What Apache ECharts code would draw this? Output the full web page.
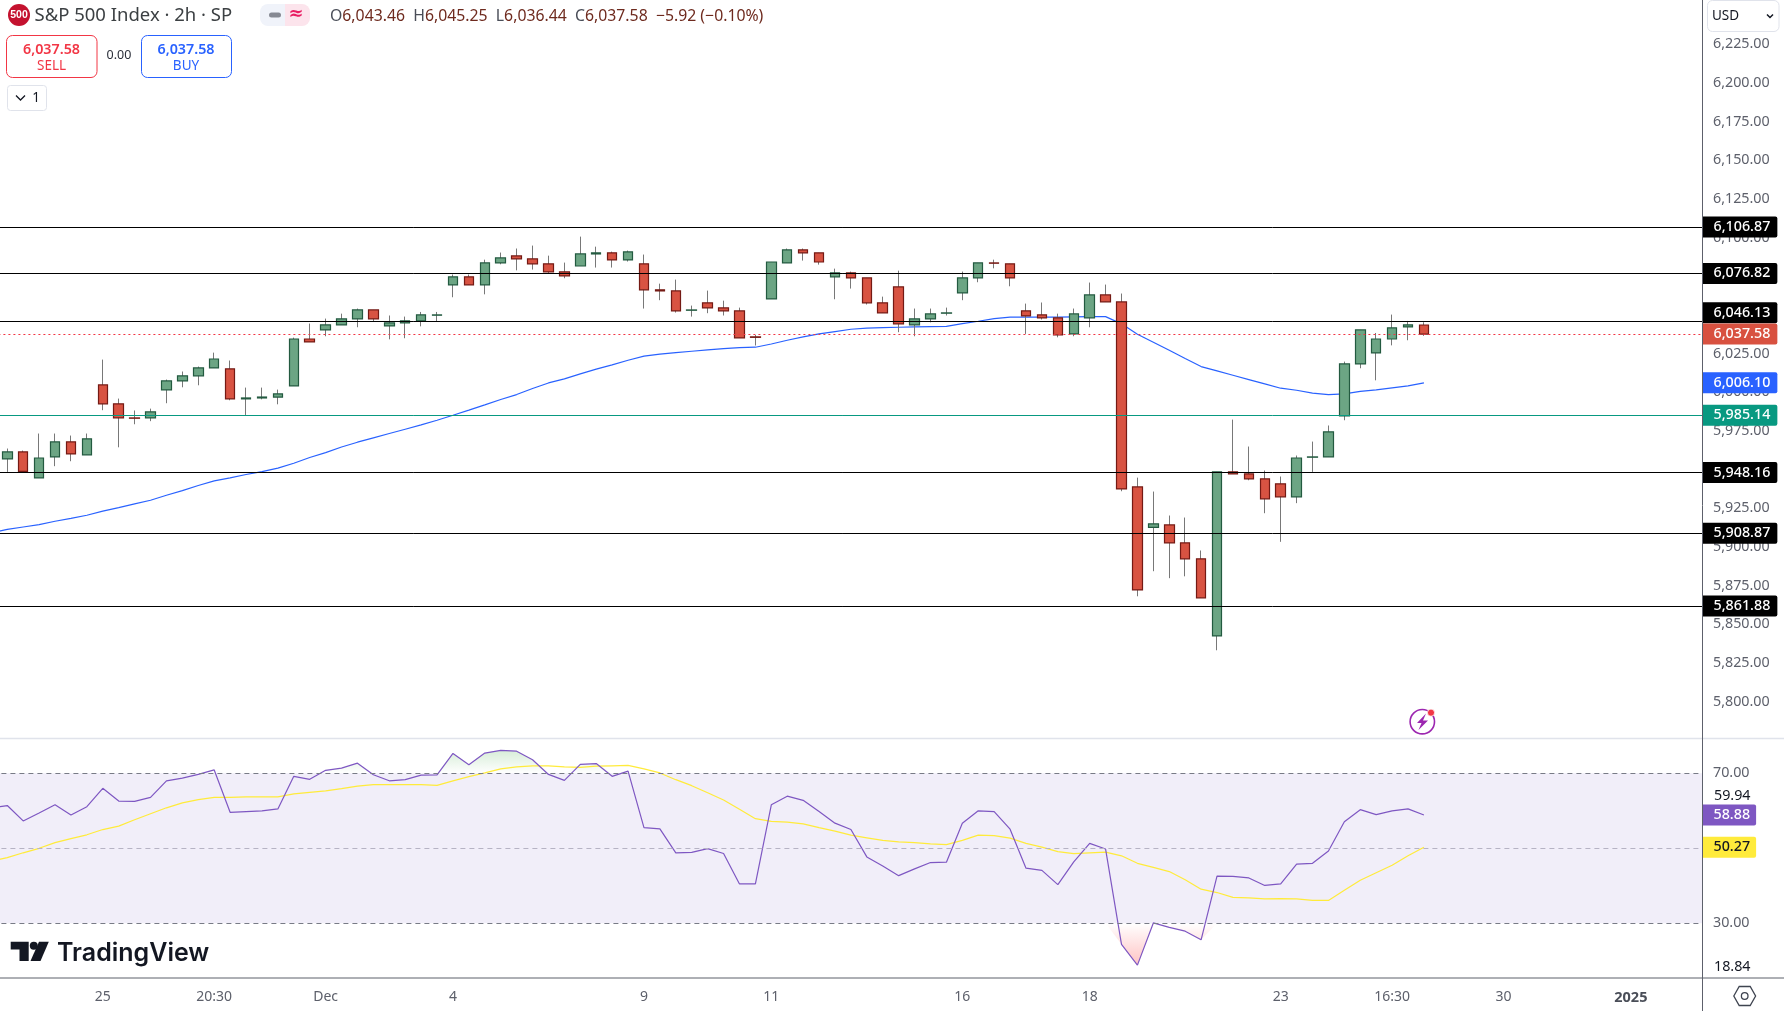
<!DOCTYPE html>
<html><head><meta charset="utf-8">
<style>html,body{margin:0;padding:0;background:#fff;width:1784px;height:1011px;overflow:hidden;position:relative}#c{position:absolute;left:-17px;top:0;width:1801px;height:1011px}</style>
<script src="https://cdn.jsdelivr.net/npm/echarts@6/dist/echarts.min.js"></script>
</head><body><div id="c"></div>
<script>
const opens=[5956.9,5961.4,5944.6,5958.2,5967.9,5959.5,6004.7,5992.5,5983.4,5983.4,6001.5,6007.3,6010.6,6015.7,6015.1,5995.7,5996.3,5996.9,6004.1,6034.4,6040.3,6043.5,6047.4,6053.2,6042.9,6044.8,6046.1,6049.8,6069.4,6074.6,6069.4,6083.6,6088.1,6086.2,6083.0,6077.8,6081.6,6089.4,6090.1,6085.5,6083.0,6066.2,6065.5,6053.0,6057.8,6054.5,6052.6,6035.8,6060.3,6083.6,6092.0,6090.1,6074.6,6077.1,6073.9,6057.8,6068.1,6043.5,6047.4,6051.1,6064.2,6073.9,6083.6,6083.0,6052.6,6050.0,6048.1,6037.7,6048.1,6062.9,6058.4,5938.8,5912.7,5914.2,5902.6,5892.3,5842.5,5948.5,5947.2,5944.0,5940.8,5932.4,5958.0,5958.2,5984.7,6018.3,6025.4,6034.4,6042.2,6043.46];
const closes=[5961.4,5948.9,5957.5,5967.9,5960.1,5969.9,5992.5,5983.4,5983.2,5987.3,6007.3,6010.6,6015.7,6021.5,5995.7,5996.3,5996.9,5998.9,6034.4,6032.5,6043.5,6047.4,6053.2,6047.4,6044.8,6046.1,6050.0,6050.0,6074.6,6069.4,6083.6,6086.8,6086.2,6083.0,6077.8,6075.2,6089.4,6090.1,6085.5,6090.7,6066.2,6065.5,6052.6,6053.2,6054.5,6052.6,6035.1,6035.5,6084.2,6092.0,6090.1,6084.2,6077.1,6073.9,6057.8,6051.3,6044.2,6047.4,6050.6,6051.3,6073.9,6083.6,6083.4,6073.9,6049.3,6048.1,6037.0,6050.6,6062.9,6058.4,5937.5,5872.2,5914.9,5902.6,5892.3,5867.1,5948.5,5947.2,5944.0,5931.1,5932.4,5957.5,5958.2,5974.4,6018.3,6040.3,6034.4,6041.6,6043.5,6037.58];
const highs=[5963.6,5962.3,5973.3,5973.3,5972.0,5973.3,6021.1,5995.9,5988.2,5989.4,6008.2,6013.4,6016.6,6025.6,6020.5,6003.0,6003.0,6001.7,6035.3,6044.4,6047.6,6050.8,6054.1,6053.2,6049.6,6048.9,6051.9,6051.9,6076.1,6076.1,6085.7,6090.3,6092.9,6094.8,6088.3,6083.8,6100.6,6094.1,6090.9,6091.6,6089.0,6070.2,6072.8,6056.0,6065.7,6059.2,6054.7,6037.0,6084.2,6092.9,6092.9,6090.1,6079.9,6078.0,6073.9,6061.8,6078.6,6054.1,6054.1,6054.7,6078.0,6083.6,6085.7,6083.0,6057.3,6058.0,6050.8,6054.1,6070.9,6069.6,6063.8,5944.8,5935.8,5920.3,5919.0,5897.7,5948.5,5982.3,5964.9,5949.4,5945.5,5959.1,5968.1,5978.5,6019.8,6040.3,6038.3,6050.2,6046.1,6045.25];
const lows=[5948.5,5948.9,5944.6,5952.2,5955.4,5959.5,5988.4,5964.4,5979.3,5981.3,5992.9,6003.2,6004.5,6015.7,5994.8,5985.3,5995.4,5992.2,6004.1,6032.5,6036.2,6043.5,6042.0,6045.9,6034.2,6034.9,6042.6,6045.9,6061.4,6069.4,6063.3,6082.7,6078.8,6079.3,6077.1,6073.7,6081.6,6080.6,6080.6,6084.5,6054.1,6059.5,6051.5,6048.9,6051.1,6049.6,6035.1,6030.2,6060.3,6083.6,6085.1,6082.5,6060.1,6067.0,6056.7,6051.3,6038.8,6036.2,6045.2,6049.6,6059.5,6071.1,6080.1,6068.5,6037.7,6047.0,6035.5,6036.2,6042.0,6058.4,5936.0,5868.1,5884.3,5879.8,5881.0,5867.1,5833.2,5947.2,5943.1,5921.8,5903.3,5928.3,5948.5,5958.2,5981.9,6015.5,6007.7,6030.3,6033.6,6036.44];
// The next three start one bar earlier than the candles: the lines run in from the left edge.
const priceAverage=[5909.1,5911.4,5912.9,5914.4,5916.6,5918.5,5920.5,5923.1,5925.4,5927.8,5930.2,5933.4,5936.4,5939.7,5942.7,5944.6,5946.8,5948.7,5950.9,5954.1,5957.8,5961.0,5964.6,5967.7,5970.5,5973.3,5976.1,5978.9,5981.9,5985.1,5988.4,5991.8,5995.3,5998.5,6002.4,6006.0,6008.6,6011.9,6014.9,6017.7,6020.7,6023.3,6024.6,6025.6,6026.5,6027.4,6028.2,6028.9,6029.1,6031.2,6033.6,6035.8,6037.7,6039.2,6040.7,6041.4,6041.8,6042.0,6042.2,6042.4,6042.6,6044.4,6045.9,6047.6,6048.5,6048.5,6048.5,6048.5,6048.7,6048.9,6048.9,6044.2,6037.5,6032.3,6027.1,6021.8,6016.6,6013.8,6011.0,6008.2,6005.4,6002.6,6001.3,5999.4,5998.5,5998.9,6000.6,6001.5,6002.8,6004.1,6006.10];
const rsiValues=[60.8,61.4,57.3,59.4,61.6,58.9,61.1,66.0,62.6,62.5,63.6,68.0,68.7,69.7,70.9,59.6,59.8,60.0,60.5,69.2,68.4,70.8,71.4,72.7,69.6,68.0,68.3,69.5,69.6,75.3,72.3,75.4,76.1,75.9,73.6,69.7,68.1,72.4,72.6,69.2,70.6,55.5,55.2,48.8,48.9,49.9,48.6,40.5,40.5,61.6,63.9,62.8,59.8,56.7,55.0,47.7,45.3,42.7,44.5,46.2,46.3,56.7,60.0,59.8,55.1,44.7,44.1,40.3,46.4,51.3,49.8,24.4,18.84,30.1,28.9,27.9,25.6,42.6,42.5,42.1,40.1,40.5,45.8,46.0,49.3,57.1,60.3,59.0,60.0,60.5,58.88];
const rsiAverage=[46.6,47.5,48.8,50.0,51.5,52.6,53.6,55.0,55.9,57.6,59.2,60.8,62.1,63.0,63.6,63.6,63.7,63.7,63.7,64.5,64.9,65.3,65.9,66.6,67.0,67.0,67.0,67.0,66.8,68.0,69.1,70.1,71.2,71.7,72.0,72.0,71.7,71.6,71.9,72.0,72.1,71.2,70.1,68.3,66.7,64.8,62.9,60.4,57.9,57.2,57.0,56.5,55.5,54.6,53.5,52.8,52.1,51.7,51.5,51.2,51.0,52.1,53.5,53.4,52.7,51.3,50.3,49.1,48.6,48.8,49.0,48.0,46.0,44.9,43.8,41.6,39.1,38.2,36.9,36.8,36.5,36.6,36.5,36.1,36.1,38.8,41.5,43.5,45.5,48.0,50.27];
const timeTickBars=[6,13,20,28,40,48,60,68,80,87,94,102];
const timeTickLabels=['25','20:30','Dec','4','9','11','16','18','23','16:30','30','2025'];
const levelValues=[6106.87,6076.82,6046.13,5948.16,5908.87,5861.88];
const supportValue=5985.14, lastPrice=6037.58, averageLast=6006.10, rsiLast=58.88, rsiAvgLast=50.27;
const rsiLevels=[70,50,30];

const FONT='"Noto Sans"';
const slotCount=108;
const categories=Array.from({length:slotCount},(_,i)=>'b'+i);
const tickMap={};timeTickBars.forEach((b,i)=>{tickMap['b'+(b+1)]=timeTickLabels[i]});
const blank=['-','-','-','-'];
const wickData=[blank].concat(opens.map((o,i)=>[o,closes[i],lows[i],highs[i]]));
const bodyData=[blank].concat(opens.map((o,i)=>[o,closes[i],Math.min(o,closes[i]),Math.max(o,closes[i])]));

const tag=(bg,fg,pad)=>({show:true,position:'end',distance:0,color:fg,backgroundColor:bg,fontFamily:FONT,fontSize:14.3,fontWeight:500,lineHeight:15,padding:pad||[3,7,3,11],borderRadius:[0,2,2,0],formatter:p=>p.value.toLocaleString('en-US',{minimumFractionDigits:2,maximumFractionDigits:2})});
const noLine={color:'rgba(0,0,0,0)',width:0};
const levelLine=(v,line,bg,fg,offset)=>({yAxis:v,lineStyle:line,label:Object.assign(tag(bg,fg),offset?{offset}:{})});
const black={color:'#000',width:1,type:'solid'};

const T=(text,x,y,font,fill,align)=>({type:'text',silent:true,z:100,style:{text,x,y,font,fill,textAlign:align||'left',textVerticalAlign:'middle'}});
const R=(x,y,w,h,r,fill,stroke,lw)=>({type:'rect',silent:true,z:99,shape:{x,y,width:w,height:h,r},style:{fill:fill||'none',stroke:stroke||'none',lineWidth:lw||1}});
const L=(x1,y1,x2,y2,stroke,lw)=>({type:'line',silent:true,z:98,shape:{x1,y1,x2,y2},style:{stroke,lineWidth:lw||1}});
const P=(points,fill,stroke,lw)=>({type:'polygon',silent:true,z:100,shape:{points},style:{fill:fill||'none',stroke:stroke||'none',lineWidth:lw||1}});
const PL=(points,stroke,lw)=>({type:'polyline',silent:true,z:100,shape:{points},style:{fill:'none',stroke,lineWidth:lw||1}});
const C=(cx,cy,r,fill,stroke,lw)=>({type:'circle',silent:true,z:100,shape:{cx,cy,r},style:{fill:fill||'none',stroke:stroke||'none',lineWidth:lw||1}});

const chrome=[
 L(0,738.5,1784,738.5,'#e0e3eb',1.5),
 L(1702.5,0,1702.5,1011,'#5d606b',1),
 L(0,978,1784,978,'#5d606b',1),
 // title row
 C(19,15,11,'#c4122f'),
 T('500',19,15.5,'bold 10.5px "Liberation Sans"','#fff','center'),
 T('S&P 500 Index · 2h · SP',34.5,15.5,'18.5px '+FONT,'#3c4043'),
 R(260,4,25,22,[8,0,0,8],'#f0f3fa'), R(285,4,25,22,[0,8,8,0],'#fce4ec'),
 R(269,12.5,12,5,2.5,'#868993'),
 T('≈',296,14.5,'bold 18px "DejaVu Sans"','#e91e63','center'),
 {type:'text',silent:true,z:100,style:{x:330,y:16,textVerticalAlign:'middle',font:'15.8px '+FONT,
   text:'{a|O}{b|6,043.46}  {a|H}{b|6,045.25}  {a|L}{b|6,036.44}  {a|C}{b|6,037.58}  {b|−5.92 (−0.10%)}',
   rich:{a:{fill:'#4a4e58',font:'15.8px '+FONT},b:{fill:'#6e2a1e',font:'15.8px '+FONT}}}},
 // sell / buy
 R(6.5,35.5,90.5,42,6,'#fff','#f23645'),
 T('6,037.58',51.5,49.5,'600 14.3px '+FONT,'#f23645','center'),
 T('SELL',51.5,66.5,'13.5px '+FONT,'#f23645','center'),
 T('0.00',119,55.5,'12.5px '+FONT,'#2a2e39','center'),
 R(141.5,35.5,90,42,6,'#fff','#2962ff'),
 T('6,037.58',186,49.5,'600 14.3px '+FONT,'#2962ff','center'),
 T('BUY',186,66.5,'13.5px '+FONT,'#2962ff','center'),
 R(7.5,85.5,39,25,3,'#fff','#e0e3eb'),
 PL([[16,95.5],[20.5,100],[25,95.5]],'#131722',1.3),
 T('1',36,98,'13.5px '+FONT,'#131722','center'),
 // currency
 R(1707.5,0.5,71.5,31,5,'#fff','#e0e3eb'),
 T('USD',1712,16.5,'13.5px '+FONT,'#131722'),
 PL([[1767,14.5],[1770,17.5],[1773,14.5]],'#131722',1.5),
 // static rsi figures
 T('59.94',1714,795.7,'14.3px '+FONT,'#131722'),
 T('18.84',1714,966.7,'14.3px '+FONT,'#131722'),
 // settings icon
 P([[1733.8,996],[1739.2,986.5],[1750.2,986.5],[1755.6,996],[1750.2,1005.5],[1739.2,1005.5]],null,'#3f4450',1.3),
 C(1744.7,996,3.3,null,'#3f4450',1.3),
 // bolt
 C(1422.3,721.7,12.2,null,'#9c27b0',1.6),
 P([[1426,713.5],[1417,723],[1421.5,723],[1418.5,730],[1428,720.5],[1423,720.5]],'#9c27b0'),
 C(1431,712.7,3.6,'#f23645','#fff',0.8),
 // TradingView logo
 P([[10.7,941.7],[28.7,941.7],[28.7,961],[19.5,961],[19.5,949.5],[10.7,949.5]],'#131722'),
 C(33.8,945.7,4,'#131722'),
 P([[39,941.7],[48.8,941.7],[40.5,961],[30.5,961]],'#131722'),
 T('TradingView',57,953,'600 25px Inter','#131722'),
];

const chart=echarts.init(document.getElementById('c'),null,{renderer:'canvas',width:1801,height:1011});
chart.setOption({
 animation:false,backgroundColor:'#fff',
 grid:[{left:0.4,width:1719.1,top:5.5,height:734.8},{left:0.4,width:1719.1,top:739,height:239}],
 xAxis:[
  {type:'category',gridIndex:0,data:categories,axisLine:{show:false},axisTick:{show:false},axisLabel:{show:false},splitLine:{show:false}},
  {type:'category',gridIndex:1,data:categories,axisLine:{show:false},axisTick:{show:false},splitLine:{show:false},
   axisLabel:{interval:(i,v)=>!!tickMap[v],hideOverlap:false,margin:12,color:'#5d606b',fontFamily:FONT,fontSize:14,
     formatter:v=>{const t=tickMap[v]||'';return t==='2025'?'{y|2025}':t},rich:{y:{fontFamily:FONT,fontSize:14.5,fontWeight:700,color:'#4a4e58'}}}}
 ],
 yAxis:[
  {type:'value',gridIndex:0,position:'right',min:5775,max:6250,interval:25,axisLine:{show:false},axisTick:{show:false},splitLine:{show:false},
   axisLabel:{showMinLabel:false,showMaxLabel:false,margin:10.5,padding:[0,0,2,0],color:'#5d606b',fontFamily:FONT,fontSize:14.3,formatter:v=>v.toLocaleString('en-US',{minimumFractionDigits:2})}},
  {type:'value',gridIndex:1,position:'right',min:15.41,max:79.15,axisLine:{show:false},axisTick:{show:false},splitLine:{show:false},
   axisLabel:{customValues:[30,70],margin:10.5,padding:[6,0,0,0],color:'#5d606b',fontFamily:FONT,fontSize:14.3,formatter:v=>v.toFixed(2)}}
 ],
 graphic:{elements:[{type:'group',x:17,y:0,children:chrome}]},
 series:[
  {name:'MA',type:'line',xAxisIndex:0,yAxisIndex:0,z:2,data:priceAverage,showSymbol:false,symbol:'none',lineStyle:{color:'#2962ff',width:1.2},
   markLine:{silent:true,symbol:'none',animation:false,data:[
     levelLine(averageLast,noLine,'#2962ff','#fff'),
     levelLine(supportValue,{color:'#089981',width:1,type:'solid'},'#089981','#fff'),
     levelLine(levelValues[0],black,'#000','#fff'),
     levelLine(levelValues[1],black,'#000','#fff'),
     levelLine(levelValues[2],black,'#000','#fff',[0,-8.2]),
     levelLine(levelValues[3],black,'#000','#fff'),
     levelLine(levelValues[4],black,'#000','#fff'),
     levelLine(levelValues[5],black,'#000','#fff'),
     levelLine(lastPrice,{color:'#f23645',width:1,type:[2,3]},'#d85140','#fff')
   ]}},
  {name:'wick',type:'candlestick',xAxisIndex:0,yAxisIndex:0,z:3,barWidth:1,data:wickData,
   itemStyle:{color:'#787878',color0:'#787878',borderColor:'#787878',borderColor0:'#787878',borderWidth:1}},
  {name:'body',type:'candlestick',xAxisIndex:0,yAxisIndex:0,z:4,barWidth:10,data:bodyData,
   itemStyle:{color:'#6ca584',color0:'#d85342',borderColor:'#235a40',borderColor0:'#741a14',borderWidth:1.2}},
  {name:'band',type:'line',xAxisIndex:1,yAxisIndex:1,z:1,data:[],
   markArea:{silent:true,itemStyle:{color:'#f1eef9',opacity:1},data:[[{yAxis:rsiLevels[2]},{yAxis:rsiLevels[0]}]]},
   markLine:{silent:true,symbol:'none',label:{show:false},data:[
     {yAxis:rsiLevels[0],lineStyle:{color:'#787b86',width:1,type:[5,4]}},
     {yAxis:rsiLevels[1],lineStyle:{color:'#b6b3c4',width:1,type:[5,4]}},
     {yAxis:rsiLevels[2],lineStyle:{color:'#787b86',width:1,type:[5,4]}}]}},
  {name:'over',type:'line',xAxisIndex:1,yAxisIndex:1,z:2,data:rsiValues.map(v=>Math.max(v,70)),symbol:'none',lineStyle:{width:0},
   areaStyle:{origin:70,opacity:1,color:new echarts.graphic.LinearGradient(0,0,0,1,[{offset:0,color:'rgba(76,175,80,0.22)'},{offset:1,color:'rgba(76,175,80,0)'}])}},
  {name:'under',type:'line',xAxisIndex:1,yAxisIndex:1,z:2,data:rsiValues.map(v=>Math.min(v,30)),symbol:'none',lineStyle:{width:0},
   areaStyle:{origin:30,opacity:1,color:new echarts.graphic.LinearGradient(0,0,0,1,[{offset:0,color:'rgba(255,82,82,0)'},{offset:1,color:'rgba(255,82,82,0.35)'}])}},
  {name:'RSI MA',type:'line',xAxisIndex:1,yAxisIndex:1,z:3,data:rsiAverage,symbol:'none',lineStyle:{color:'#ffeb3b',width:1.2}},
  {name:'RSI',type:'line',xAxisIndex:1,yAxisIndex:1,z:4,data:rsiValues,symbol:'none',lineStyle:{color:'#7e57c2',width:1.2},
   markLine:{silent:true,symbol:'none',data:[
     {yAxis:rsiLast,lineStyle:noLine,label:tag('#7e57c2','#fff',[3,6,3,11])},
     {yAxis:rsiAvgLast,lineStyle:noLine,label:tag('#ffeb3b','#131722',[3,6,3,11])}]}}
 ]
});
</script></body></html>
